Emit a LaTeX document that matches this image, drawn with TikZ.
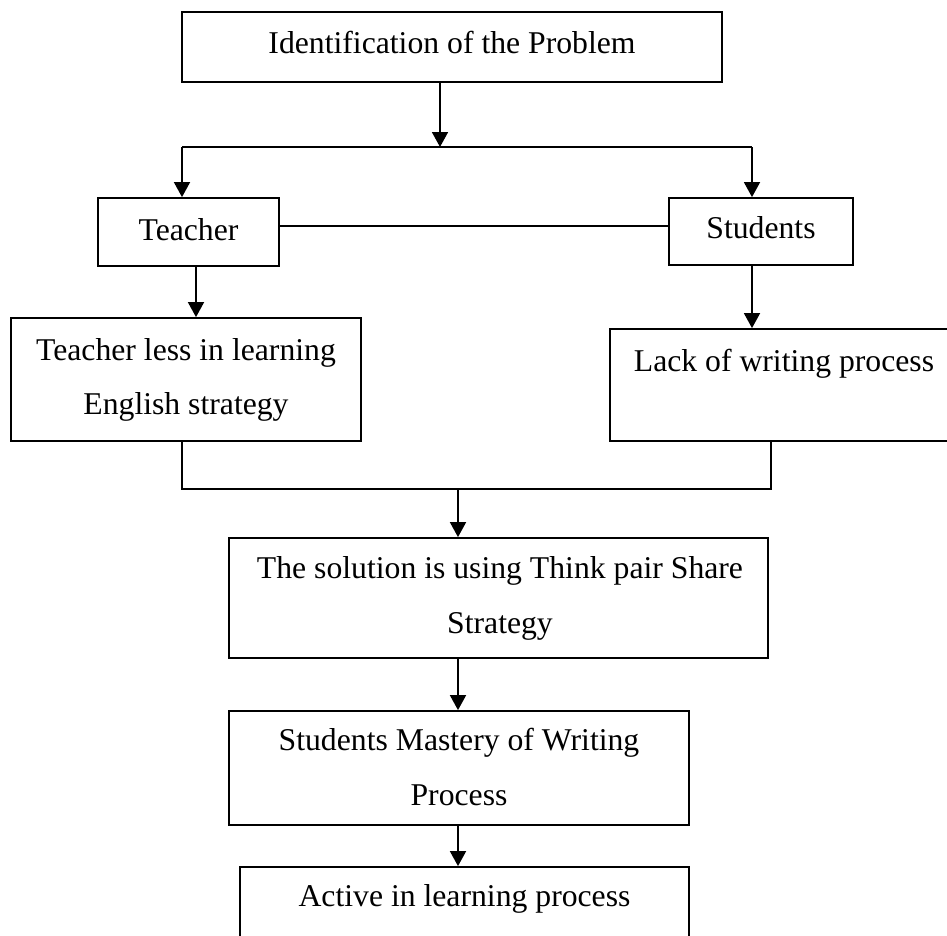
\documentclass[tikz,border=0pt]{standalone}
\usepackage{fontspec}
\setmainfont{Liberation Serif}
\usetikzlibrary{arrows.meta}
\tikzset{
  boxnode/.style={draw=black, line width=1.8pt, rectangle, inner sep=0pt},
  txt/.style={anchor=base, inner sep=0pt, font=\fontsize{31.7}{54}\selectfont},
  conn/.style={draw=black, line width=1.7pt},
  arr/.style={conn, -{Triangle[width=16pt,length=15pt]}}
}
\begin{document}
\begin{tikzpicture}[x=1pt,y=-1pt]
\useasboundingbox (0,0) rectangle (947,935);
\clip (0,0) rectangle (947,935);
% boxes
\node[boxnode, minimum width=540pt, minimum height=70pt] (top) at (452,47) {};
\node[boxnode, minimum width=181pt, minimum height=68pt] (teacher) at (188.5,232) {};
\node[boxnode, minimum width=184pt, minimum height=67pt] (students) at (761,231.5) {};
\node[boxnode, minimum width=350pt, minimum height=123pt] (tless) at (186,379.5) {};
\node[boxnode, minimum width=348pt, minimum height=112pt] (lack) at (784,385) {};
\node[boxnode, minimum width=539pt, minimum height=120pt] (sol) at (498.5,598) {};
\node[boxnode, minimum width=460pt, minimum height=114pt] (mast) at (459,768) {};
\node[boxnode, minimum width=449pt, minimum height=100pt] (act) at (464.5,917) {};
% texts
\node[txt] (ttop) at (452,53) {Identification of the Problem};
\node[txt] (tteacher) at (188.5,240) {Teacher};
\node[txt] (tstudents) at (761,238) {Students};
\node[txt] (ttless1) at (186,360) {Teacher less in learning};
\node[txt] (ttless2) at (186,414) {English strategy};
\node[txt] (tlack) at (784,371) {Lack of writing process};
\node[txt] (tsol1) at (500,578) {The solution is using Think pair Share};
\node[txt] (tsol2) at (500,633) {Strategy};
\node[txt] (tmast1) at (459,750) {Students Mastery of Writing};
\node[txt] (tmast2) at (459,805) {Process};
\node[txt] (tact) at (464.5,906) {Active in learning process};
% junction coordinates
\coordinate (j) at (440,147);
\coordinate (jl) at (182,147);
\coordinate (jr) at (752,147);
\coordinate (mid) at (0,226);
\coordinate (tx) at (196,0);
\coordinate (bl) at (182,489);
\coordinate (br) at (771,489);
\coordinate (bm) at (458,489);
% connectors
\draw[arr] (top.south -| j) -- (j);
\draw[conn] (jl) -- (jr);
\draw[arr] (jl) -- (jl |- teacher.north);
\draw[arr] (jr) -- (jr |- students.north);
\draw[conn] (teacher.east |- mid) -- (students.west |- mid);
\draw[arr] (teacher.south -| tx) -- (tless.north -| tx);
\draw[arr] (students.south -| jr) -- (lack.north -| jr);
\draw[conn] (tless.south -| bl) -- (bl) -- (br) -- (lack.south -| br);
\draw[arr] (bm) -- (sol.north -| bm);
\draw[arr] (sol.south -| bm) -- (mast.north -| bm);
\draw[arr] (mast.south -| bm) -- (act.north -| bm);
\end{tikzpicture}
\end{document}
